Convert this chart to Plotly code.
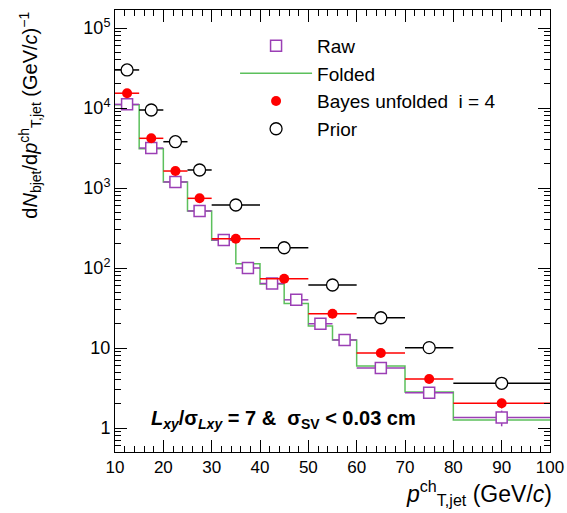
import numpy as np
import plotly.graph_objects as go

# ---- data ----
raw_edges = [10, 15, 20, 25, 30, 35, 40, 45, 50, 55, 60, 70, 80, 100]
raw_vals = [11100, 3160, 1190, 516, 224, 100, 64, 40, 20.1, 12.6, 5.62, 2.76, 1.35]
raw_err = [150, 60, 35, 20, 12, 8, 6, 4, 2.5, 1.8, 0.6, 0.4, 0.3]

folded_vals = [11000, 3100, 1190, 516, 222, 113, 63, 36, 18.8, 12.6, 5.96, 2.82, 1.26]

unf_edges = [10, 15, 20, 25, 30, 40, 50, 60, 70, 80, 100]
bayes_vals = [15300, 4180, 1630, 743, 232, 73.5, 26.8, 8.66, 4.1, 2.04]
bayes_err = [200, 80, 45, 25, 10, 4, 2, 0.6, 0.45, 0.28]
prior_vals = [29900, 9440, 3790, 1680, 613, 179, 61.3, 23.9, 10.1, 3.62]

y_tickvals = [1, 10, 100, 1000, 10000, 100000]
y_ticktext = ["1", "10", "10<sup>2</sup>", "10<sup>3</sup>", "10<sup>4</sup>", "10<sup>5</sup>"]
x_tickvals = [10, 20, 30, 40, 50, 60, 70, 80, 90, 100]

# ---- derived ----
def centers(e):
    return [(a + b) / 2 for a, b in zip(e[:-1], e[1:])]

def halfw(e):
    return [(b - a) / 2 for a, b in zip(e[:-1], e[1:])]

rc, rw = centers(raw_edges), halfw(raw_edges)
uc, uw = centers(unf_edges), halfw(unf_edges)

PURPLE = "#9b3fb5"
GREEN = "#5cc05c"
RED = "#ff0000"

FONT = "Liberation Sans, Arial, Helvetica, sans-serif"

fig = go.Figure()

# Folded histogram (step)
fig.add_trace(go.Scatter(
    x=raw_edges, y=folded_vals + [folded_vals[-1]], mode="lines",
    line=dict(shape="hv", color=GREEN, width=1.5), name="Folded", legendrank=2))

# Raw
fig.add_trace(go.Scatter(
    x=rc, y=raw_vals, mode="markers", name="Raw", legendrank=1,
    marker=dict(symbol="square", size=11, color="white", line=dict(color=PURPLE, width=1.5)),
    error_x=dict(type="data", array=rw, color=PURPLE, thickness=1.5, width=0),
    error_y=dict(type="data", array=raw_err, color=PURPLE, thickness=1.5, width=0)))

# Bayes unfolded
fig.add_trace(go.Scatter(
    x=uc, y=bayes_vals, mode="markers", name="Bayes unfolded  i = 4", legendrank=3,
    marker=dict(symbol="circle", size=10, color=RED, line=dict(color=RED, width=0)),
    error_x=dict(type="data", array=uw, color=RED, thickness=1.5, width=0),
    error_y=dict(type="data", array=bayes_err, color=RED, thickness=1.5, width=0)))

# Prior
fig.add_trace(go.Scatter(
    x=uc, y=prior_vals, mode="markers", name="Prior", legendrank=4,
    marker=dict(symbol="circle", size=12, color="white", line=dict(color="black", width=1.3)),
    error_x=dict(type="data", array=uw, color="black", thickness=1.5, width=0)))

y_minor = [m * 10 ** d for d in range(-1, 6) for m in range(2, 10)]

fig.update_layout(
    width=567, height=513,
    margin=dict(l=115, r=17, t=10, b=61, autoexpand=False),
    paper_bgcolor="white", plot_bgcolor="white",
    font=dict(family=FONT, size=17, color="black"),
    showlegend=True,
    legend=dict(x=0.276, y=0.962, xanchor="left", yanchor="top",
                bgcolor="rgba(0,0,0,0)", font=dict(size=19), itemwidth=72,
                traceorder="normal", tracegroupgap=0),
    xaxis=dict(range=[10, 100], tickvals=x_tickvals, ticks="inside", ticklen=12,
               tickcolor="black", linecolor="black", linewidth=1, mirror="allticks",
               showgrid=False, zeroline=False, tickfont=dict(size=17),
               minor=dict(dtick=2, ticks="inside", ticklen=6, tickcolor="black", showgrid=False)),
    yaxis=dict(type="log", range=[-0.3, 5.225], tickvals=y_tickvals, ticktext=y_ticktext,
               ticks="inside", ticklen=12, tickcolor="black", linecolor="black", linewidth=1,
               mirror="allticks", showgrid=False, zeroline=False, tickfont=dict(size=18),
               minor=dict(tickvals=y_minor, ticks="inside", ticklen=6, tickcolor="black",
                          showgrid=False)),
)

# axis titles as annotations
fig.add_annotation(
    text="d<i>N</i><sub>bjet</sub>/d<i>p</i><sup>ch</sup><sub>T,jet</sub> (GeV/<i>c</i>)<sup>−1</sup>",
    xref="paper", yref="paper", x=-0.195, y=1.0, xanchor="center", yanchor="top",
    textangle=-90, showarrow=False, font=dict(size=20))
fig.add_annotation(
    text="<i>p</i><sup>ch</sup><sub>T,jet</sub> (GeV/<i>c</i>)",
    xref="paper", yref="paper", x=1.01, y=-0.052, xanchor="right", yanchor="top",
    showarrow=False, font=dict(size=23))
fig.add_annotation(
    text="<b><i>L</i><sub><i>xy</i></sub>/σ<sub><i>Lxy</i></sub> = 7 &amp;  σ<sub>SV</sub> &lt; 0.03 cm</b>",
    xref="x", yref="paper", x=17.0, y=(451 - 418) / 442, xanchor="left", yanchor="middle",
    showarrow=False, font=dict(size=20))

fig.write_html("out.html")
